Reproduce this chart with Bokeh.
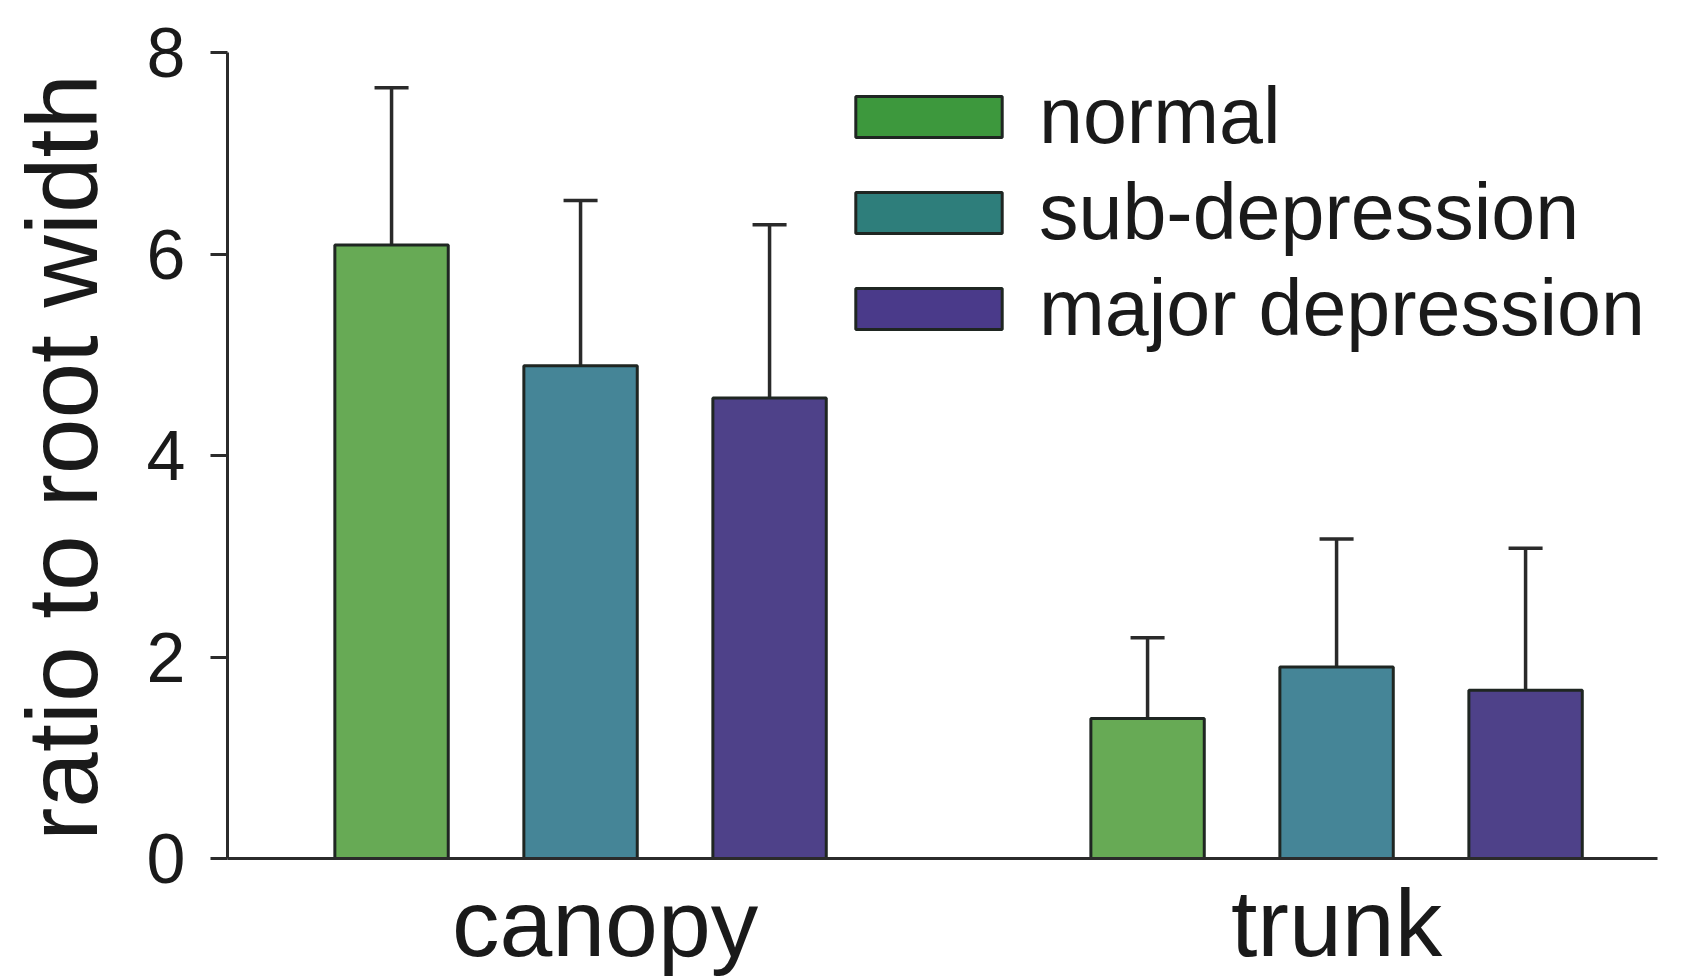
import math
from bokeh.plotting import figure
from bokeh.models import ColumnDataSource, Range1d, FixedTicker, Legend, LegendItem, Label
from bokeh.embed import file_html
from bokeh.resources import INLINE

# ---- data ----
groups = ["canopy", "trunk"]
series = ["normal", "sub-depression", "major depression"]
means_canopy = [6.09, 4.89, 4.57]
upper_canopy = [7.65, 6.53, 6.29]
means_trunk = [1.39, 1.90, 1.67]
upper_trunk = [2.19, 3.17, 3.08]
y_ticks = [0, 2, 4, 6, 8]
y_title = "ratio to root width"

bar_colors = ["#67aa55", "#458597", "#4e4189"]
legend_colors = ["#3d983d", "#2e7e7b", "#4a3a8a"]
outline = "#1f2622"
ink = "#1a1a1a"
FONT = "Liberation Sans"

# positions: bars 1 unit apart, groups 4 units apart
pos_canopy = [0, 1, 2]
pos_trunk = [4, 5, 6]
bar_w = 0.60
cap_w = 0.18

W, H = 1693, 980
LEFT, RIGHT, TOP, BOTTOM = 227, 36, 52, 122
x0_, x1_ = -0.868, 6.698
p = figure(width=W, height=H, output_backend="svg", toolbar_location=None,
           x_range=Range1d(x0_, x1_), y_range=Range1d(0, 8),
           min_border_left=LEFT, min_border_right=RIGHT, min_border_top=TOP, min_border_bottom=BOTTOM)
p.outline_line_color = None
p.grid.visible = False
p.background_fill_color = "white"
p.border_fill_color = "white"

renderers = []
for i, name in enumerate(series):
    xs = [pos_canopy[i], pos_trunk[i]]
    tops = [means_canopy[i], means_trunk[i]]
    ups = [upper_canopy[i], upper_trunk[i]]
    src = ColumnDataSource(dict(x=xs, top=tops, up=ups,
                                x0=[x - cap_w / 2 for x in xs], x1=[x + cap_w / 2 for x in xs]))
    p.segment(x0="x", y0="top", x1="x", y1="up", source=src, line_color="#2a2a2a", line_width=3.5)
    p.segment(x0="x0", y0="up", x1="x1", y1="up", source=src, line_color="#2a2a2a", line_width=3.5)
    p.vbar(x="x", top="top", bottom=0, width=bar_w, source=src,
           fill_color=bar_colors[i], line_color=outline, line_width=3)
    # legend swatch renderer (draws nothing on the plot itself)
    lr = p.vbar(x="x", top="top", bottom=0, width=bar_w,
                source=ColumnDataSource(dict(x=[float("nan")], top=[float("nan")])),
                fill_color=legend_colors[i], line_color=outline, line_width=3)
    renderers.append(lr)

legend = Legend(items=[LegendItem(label=s, renderers=[r]) for s, r in zip(series, renderers)],
                location=(610, 504), orientation="vertical",
                glyph_width=183, glyph_height=51, label_standoff=19, spacing=4,
                padding=0, margin=0, label_text_font=FONT, label_text_font_size="79px",
                label_text_color=ink, border_line_alpha=0, background_fill_alpha=0)
p.add_layout(legend, "center")

# y axis title: rotated label in the left panel
px_per_unit = (W - LEFT - RIGHT) / (x1_ - x0_)
title_x = x0_ - 166 / px_per_unit
p.add_layout(Label(x=title_x, y=3.98, text=y_title,
                   angle=math.pi / 2, text_align="center", text_baseline="alphabetic",
                   text_font=FONT, text_font_size="100px", text_color=ink), "left")

# y axis
ya = p.yaxis[0]
ya.ticker = FixedTicker(ticks=y_ticks)
ya.minor_tick_line_color = None
ya.major_tick_out = 17
ya.major_tick_in = 0
ya.major_tick_line_width = 3
ya.major_tick_line_color = "#2b2b2b"
ya.axis_line_width = 3
ya.axis_line_color = "#2b2b2b"
ya.major_label_text_font = FONT
ya.major_label_text_font_size = "70px"
ya.major_label_text_color = ink
ya.major_label_standoff = 25

# x axis
xa = p.xaxis[0]
xa.ticker = FixedTicker(ticks=[1.13, 5])
xa.major_label_overrides = {1.13: groups[0], 5: groups[1]}
xa.minor_tick_line_color = None
xa.major_tick_line_color = None
xa.axis_line_width = 3
xa.axis_line_color = "#2b2b2b"
xa.major_label_text_font = FONT
xa.major_label_text_font_size = "95px"
xa.major_label_text_color = ink
xa.major_label_standoff = 5

open("out.html", "w").write(file_html(p, INLINE))
